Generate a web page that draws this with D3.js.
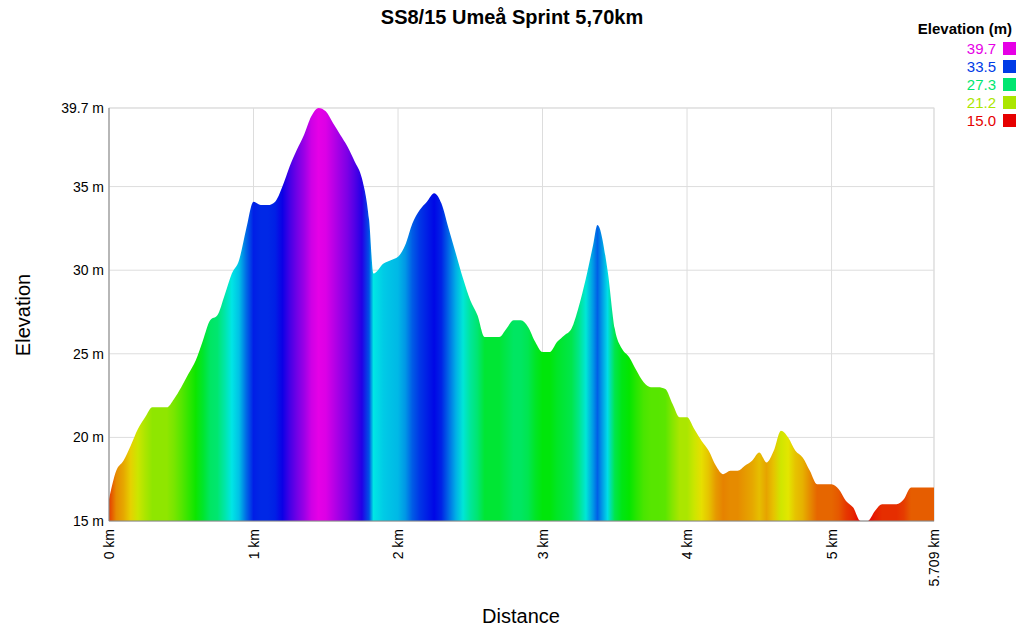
<!DOCTYPE html>
<html><head><meta charset="utf-8">
<script src="https://cdn.jsdelivr.net/npm/d3@7"></script>
<style>body{margin:0;background:#fff}text{font-family:"Liberation Sans",Arial,sans-serif}</style>
</head><body><svg id="c" width="1024" height="631"></svg>
<script>
const km=[0,0.05,0.1,0.15,0.2,0.25,0.3,0.35,0.4,0.45,0.5,0.55,0.6,0.65,0.7,0.75,0.8,0.85,0.9,0.95,1.0,1.05,1.1,1.15,1.2,1.25,1.3,1.35,1.4,1.45,1.5,1.55,1.6,1.65,1.7,1.75,1.8,1.83,1.9,1.95,2.0,2.05,2.1,2.15,2.2,2.25,2.3,2.35,2.4,2.45,2.5,2.55,2.6,2.65,2.7,2.75,2.8,2.85,2.9,2.95,3.0,3.05,3.1,3.15,3.2,3.25,3.3,3.35,3.38,3.45,3.5,3.55,3.6,3.65,3.7,3.75,3.8,3.85,3.9,3.95,4.0,4.05,4.1,4.15,4.2,4.25,4.3,4.35,4.4,4.45,4.5,4.55,4.6,4.65,4.7,4.75,4.8,4.85,4.9,4.95,5.0,5.05,5.1,5.15,5.2,5.25,5.3,5.35,5.4,5.45,5.5,5.55,5.6,5.65,5.709];
const elev=[16.3,18,18.6,19.5,20.5,21.2,21.8,21.8,21.8,22.3,23,23.8,24.6,25.8,27,27.3,28.5,29.8,30.6,32.5,34.1,33.9,33.9,34.1,35,36.2,37.2,38.1,39.2,39.7,39.5,38.8,38.1,37.4,36.5,35.5,33,29.8,30.4,30.6,30.8,31.5,32.8,33.6,34.1,34.6,34,32.5,31,29.5,28.2,27.3,26,26,26,26.5,27,27,26.6,25.7,25.1,25.1,25.7,26.1,26.5,27.8,29.5,31.5,32.7,30,26.5,25.3,24.8,24,23.3,23,23,22.9,22,21.2,21.2,20.5,19.8,19.2,18.3,17.8,18,18,18.3,18.6,19.1,18.5,19.2,20.4,20,19.2,18.8,18,17.2,17.2,17.2,16.9,16.2,15.8,15,15,15.6,16,16,16,16.3,17,17,17,17];
const yTicks=[15,20,25,30,35,39.7];
const xTicks=[0,1,2,3,4,5,5.709];
const legendVals=[39.7,33.5,27.3,21.2,15.0];

const svg=d3.select("#c");
const L=109,R=934,T=108,B=521;
const x=d3.scaleLinear().domain([0,5.709]).range([L,R]);
const y=d3.scaleLinear().domain([15,39.7]).range([B,T]);
const hue=d3.scaleLinear().domain([15,39.7]).range([0,300]);
const col=v=>d3.hsl(hue(v),1,0.45).formatHex();

svg.append("rect").attr("x",L).attr("y",T).attr("width",R-L).attr("height",B-T).attr("fill","none").attr("stroke","#ddd");
yTicks.forEach(t=>svg.append("line").attr("x1",L).attr("x2",R).attr("y1",y(t)).attr("y2",y(t)).attr("stroke","#ddd"));
xTicks.forEach(t=>svg.append("line").attr("y1",T).attr("y2",B).attr("x1",x(t)).attr("x2",x(t)).attr("stroke","#ddd"));

const g=svg.append("defs").append("linearGradient").attr("id","gr").attr("gradientUnits","userSpaceOnUse")
 .attr("x1",L).attr("x2",R).attr("y1",0).attr("y2",0);
km.forEach((k,i)=>g.append("stop").attr("offset",(x(k)-L)/(R-L)).attr("stop-color",col(elev[i])));
const data=km.map((k,i)=>[k,elev[i]]);
svg.append("path").datum(data).attr("fill","url(#gr)")
 .attr("d",d3.area().x(d=>x(d[0])).y0(B).y1(d=>y(d[1])).curve(d3.curveMonotoneX));

yTicks.forEach(t=>svg.append("text").attr("x",L-5).attr("y",y(t)+5).attr("text-anchor","end").attr("font-size",14).text(t+" m"));
svg.append("line").attr("x1",L).attr("x2",L).attr("y1",T).attr("y2",B).attr("stroke","#888");
svg.append("line").attr("x1",L).attr("x2",R).attr("y1",B).attr("y2",B).attr("stroke","#888");
xTicks.forEach(t=>svg.append("text").attr("transform",`translate(${x(t)+5},${B+8}) rotate(-90)`).attr("text-anchor","end").attr("font-size",14).text(t+" km"));

svg.append("text").attr("x",521).attr("y",623).attr("text-anchor","middle").attr("font-size",20).text("Distance");
svg.append("text").attr("transform","translate(30,315) rotate(-90)").attr("text-anchor","middle").attr("font-size",20).text("Elevation");
svg.append("text").attr("x",512).attr("y",24).attr("text-anchor","middle").attr("font-size",20).attr("font-weight","bold").text("SS8/15 Umeå Sprint 5,70km");

// legend
svg.append("text").attr("x",1012).attr("y",34).attr("text-anchor","end").attr("font-size",15).attr("font-weight","bold").text("Elevation (m)");
legendVals.forEach((v,i)=>{
  const yy=48+i*18;
  svg.append("rect").attr("x",1003).attr("y",yy-6).attr("width",13).attr("height",13).attr("fill",col(v));
  svg.append("text").attr("x",996).attr("y",yy+6).attr("text-anchor","end").attr("font-size",15).attr("fill",col(v)).text(v.toFixed(1));
});
</script></body></html>
